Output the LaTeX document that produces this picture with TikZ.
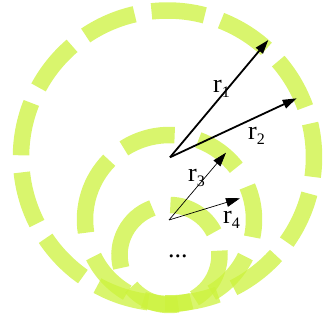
\documentclass[tikz,border=0pt]{standalone}
\usepackage{fontspec}
\setmainfont{Liberation Serif}
\usetikzlibrary{arrows.meta}
\definecolor{ringgreen}{RGB}{204,242,60}
\newcommand{\subdigit}[1]{\raisebox{-5pt}{\fontsize{16}{16}\selectfont #1}}
\begin{document}
\begin{tikzpicture}[x=1pt,y=1pt,
  ring/.style={draw=ringgreen, draw opacity=0.75, line width=16.5pt, line cap=butt},
  vecthick/.style={line width=1.8pt, -{Triangle[length=14pt,width=9pt]}},
  vecthin/.style={line width=0.7pt, -{Triangle[length=14pt,width=9pt]}},
  lab/.style={inner sep=0pt, anchor=base west, font=\fontsize{26}{26}\selectfont}]
\useasboundingbox (0,0) rectangle (322,324);
% circle centres
\coordinate (cb) at (167.5,167);
\coordinate (cm) at (169.5,104.5);
\coordinate (cs) at (169.5,69);
% big ring
\foreach \k in {0,...,12}{
  \pgfmathsetmacro\a{2.7+27.69*\k-10.5}
  \pgfmathsetmacro\b{2.7+27.69*\k+10.5}
  \draw[ring] ([shift={(\a:146.5)}]cb) arc[start angle=\a, end angle=\b, radius=146.5];
}
% middle ring
\foreach \a/\b in {135.5/189, 86.5/122.7, 37.8/70, -12/23, -60/-26, -108/-75, -154/-120}{
  \draw[ring] ([shift={(\a:84.5)}]cm) arc[start angle=\a, end angle=\b, radius=84.5];
}
% small ring
\foreach \a/\b in {27/89, 110/195, -60/5, -140/-80}{
  \draw[ring] ([shift={(\a:50)}]cs) arc[start angle=\a, end angle=\b, radius=50];
}
% vectors
\coordinate (o1) at (170,166.7);
\coordinate (t1) at (268.3,284);
\coordinate (t2) at (296.7,225.7);
\coordinate (o2) at (169,104);
\coordinate (t3) at (226,171.3);
\coordinate (t4) at (240,125.7);
\draw[vecthick] (o1) -- (t1);
\draw[vecthick] (o1) -- (t2);
\draw[vecthin] (o2) -- (t3);
\draw[vecthin] (o2) -- (t4);
% labels
\node[lab] (l1) at (213,231) {r\subdigit{1}};
\node[lab] (l2) at (248,184) {r\subdigit{2}};
\node[lab] (l3) at (188,142) {r\subdigit{3}};
\node[lab] (l4) at (223,100) {r\subdigit{4}};
\node[lab] (dots) at (168,66) {...};
\end{tikzpicture}
\end{document}
